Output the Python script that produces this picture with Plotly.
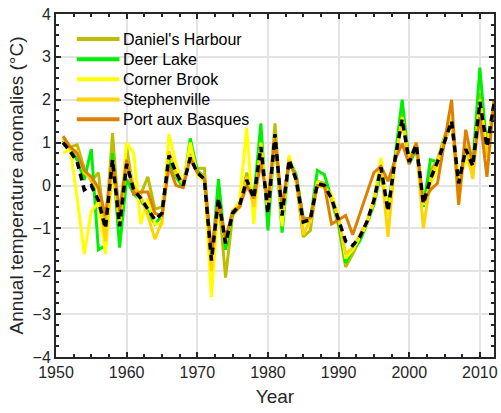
import plotly.graph_objects as go

years = list(range(1951, 2013))

daniels_harbour = [
    1.05, 0.9, 0.95, 0.4, 0.1, 0.3, -1.1, 1.22, -0.95, 0.9,
    -0.15, -0.2, 0.2, -0.55, -0.5, 0.55, 0.3, -0.05, 0.75, 0.4,
    0.4, -1.65, -0.25, -2.15, -0.7, -0.5, 0.3, -0.25, 0.9, -0.6,
    1.45, -0.75, 0.65, 0.1, -1.2, -1.05, 0.1, 0.05, -0.35, -0.95,
    -1.9, -1.6, -1.25, -0.9, -0.3, 0.5, -0.6, 0.65, 1.65, 0.6,
    1.0, -0.45, 0.35, 0.6, 1.15, 1.55, 0.1, 0.8, 0.4, 2.15,
    1.0, 1.85,
]
deer_lake = [
    1.05, 0.85, 0.6, 0.13, 0.85, -1.5, -1.4, 0.75, -1.45, 0.15,
    -0.2, -0.35, -0.6, -0.9, -0.7, 0.6, 0.2, -0.05, 1.1, 0.35,
    0.2, -1.85, 0.15, -1.5, -0.65, -0.4, 0.1, -0.3, 1.45, -1.05,
    1.2, -1.1, 0.6, 0.25, -0.75, -0.8, 0.35, 0.25, -0.3, -0.85,
    -1.8, -1.5, -1.3, -0.9, -0.45, 0.3, -0.65, 0.7, 2.0, 0.5,
    0.85, -0.5, 0.6, 0.55, 1.05, 1.5, 0.0, 0.9, 0.5, 2.75,
    0.8, 1.9,
]
corner_brook = [
    0.75, 0.85, -0.3, -1.6, -0.6, -0.4, -1.6, 0.3, -0.8, 1.0,
    0.75, -0.9, -0.3, -0.9, -0.9, 1.2, 0.5, 0.0, 1.0, 0.25,
    0.1, -2.6, -0.45, -1.3, -0.6, -0.35, 1.35, -0.9, 1.0, -0.5,
    1.2, -0.95, 0.7, 0.1, -0.9, -0.85, 0.1, -0.05, -0.2, -0.7,
    -1.7, -1.5, -1.2, -0.9, -0.3, 0.65, -0.7, 0.55, 1.6, 0.55,
    1.0, -0.45, 0.0, 0.4, 1.1, 1.55, 0.1, 0.6, 0.3, 2.0,
    0.85, 1.95,
]
stephenville = [
    1.1, 0.85, 0.8, 0.3, 0.15, -0.1, -1.3, 0.5, -0.9, 0.6,
    0.0, -0.25, -0.7, -1.25, -0.85, 0.8, 0.25, 0.05, 0.7, 0.3,
    0.2, -2.0, -0.35, -1.3, -0.6, -0.45, 0.2, -0.5, 0.85, -0.6,
    1.05, -0.65, 0.6, 0.15, -1.15, -0.8, 0.0, -0.05, -0.3, -0.75,
    -1.6, -1.45, -1.15, -0.85, -0.4, 0.45, -1.2, 0.6, 1.5, 0.55,
    0.95, -1.0, 0.1, 0.6, 1.0, 1.5, -0.4, 0.95, 0.15, 1.8,
    0.65, 1.85,
]
port_aux_basques = [
    1.15, 0.9, 0.75, 0.35, 0.2, -0.05, -0.7, 0.6, -0.6, 0.6,
    -0.2, -0.15, -0.15, -0.65, -0.7, 0.45, 0.0, -0.05, 0.65, 0.3,
    0.15, -1.55, -0.35, -1.25, -0.6, -0.5, 0.0, -0.3, 0.5, -0.35,
    1.1, -0.5, 0.55, 0.2, -0.8, -0.75, 0.0, 0.0, -0.9, -0.8,
    -0.7, -1.15, -0.65, -0.15, 0.3, 0.45, 0.1, 0.6, 0.98, 0.5,
    1.0, -0.4, -0.1, 0.05, 1.0, 2.0, -0.45, 1.3, 0.5, 1.6,
    0.2, 2.0,
]
regional_mean = [
    1.0, 0.8, 0.55, -0.1, 0.0, -0.35, -1.0, 0.6, -0.95, 0.5,
    -0.1, -0.3, -0.55, -0.8, -0.65, 0.7, 0.3, 0.0, 0.65, 0.3,
    0.15, -1.75, -0.3, -1.35, -0.65, -0.45, 0.13, -0.3, 0.9, -0.65,
    1.2, -0.7, 0.6, 0.13, -0.85, -0.8, 0.05, 0.0, -0.3, -0.8,
    -1.3, -1.4, -1.2, -0.85, -0.35, 0.42, -0.6, 0.62, 1.55, 0.55,
    0.95, -0.42, 0.15, 0.55, 1.05, 1.5, 0.05, 0.85, 0.45, 1.95,
    0.9, 1.9,
]

station_names = ["Daniel's Harbour", "Deer Lake", "Corner Brook", "Stephenville", "Port aux Basques"]
station_series = [daniels_harbour, deer_lake, corner_brook, stephenville, port_aux_basques]
station_colors = ["#BDBD00", "#00F000", "#FFFF00", "#FFD400", "#DD8000"]

FONT = "Liberation Sans, Arial"
INK = "#262626"

fig = go.Figure()
for name, vals, color in zip(station_names, station_series, station_colors):
    fig.add_trace(go.Scatter(
        x=years, y=vals, mode="lines", name=name,
        line=dict(color=color, width=3), showlegend=False,
    ))

fig.add_trace(go.Scatter(
    x=years, y=regional_mean, mode="lines", name="Mean",
    line=dict(color="black", width=3.5, dash="7px,5px"),
    showlegend=False,
))

# Key in the upper-left corner: coloured sample line plus station name per row
key_rows = [0.927, 0.868, 0.810, 0.751, 0.693]
shapes, annotations = [], []
for name, color, ky in zip(station_names, station_colors, key_rows):
    shapes.append(dict(
        type="line", xref="paper", yref="paper",
        x0=0.0475, x1=0.145, y0=ky, y1=ky,
        line=dict(color=color, width=4),
    ))
    annotations.append(dict(
        xref="paper", yref="paper", x=0.148, y=ky,
        xanchor="left", yanchor="middle", showarrow=False,
        text=name, font=dict(family=FONT, size=16, color="black"),
    ))

axis_common = dict(
    showline=True, linecolor=INK, linewidth=2, mirror="ticks",
    ticks="inside", tickcolor=INK, tickwidth=2, ticklen=5,
    showgrid=True, gridcolor="#E3E3E3", gridwidth=2,
    zeroline=False,
    tickfont=dict(family=FONT, size=16, color=INK),
)

fig.update_xaxes(
    range=[1950, 2012], dtick=10, tick0=1950,
    minor=dict(ticks="inside", dtick=2.5, ticklen=3, tickcolor=INK, tickwidth=2, showgrid=False),
    title=dict(text="Year", font=dict(family=FONT, size=19, color=INK), standoff=9),
    **axis_common,
)
fig.update_yaxes(
    range=[-4, 4], dtick=1, tick0=0,
    minor=dict(ticks="inside", dtick=0.25, ticklen=3, tickcolor=INK, tickwidth=2, showgrid=False),
    title=dict(text="Annual temperature anomalies (°C)", font=dict(family=FONT, size=19, color=INK), standoff=4),
    **axis_common,
)

fig.update_layout(
    width=501, height=413,
    margin=dict(l=56, r=3, t=14, b=56),
    plot_bgcolor="white", paper_bgcolor="white",
    showlegend=False,
    shapes=shapes, annotations=annotations,
)

fig.write_html("out.html")
